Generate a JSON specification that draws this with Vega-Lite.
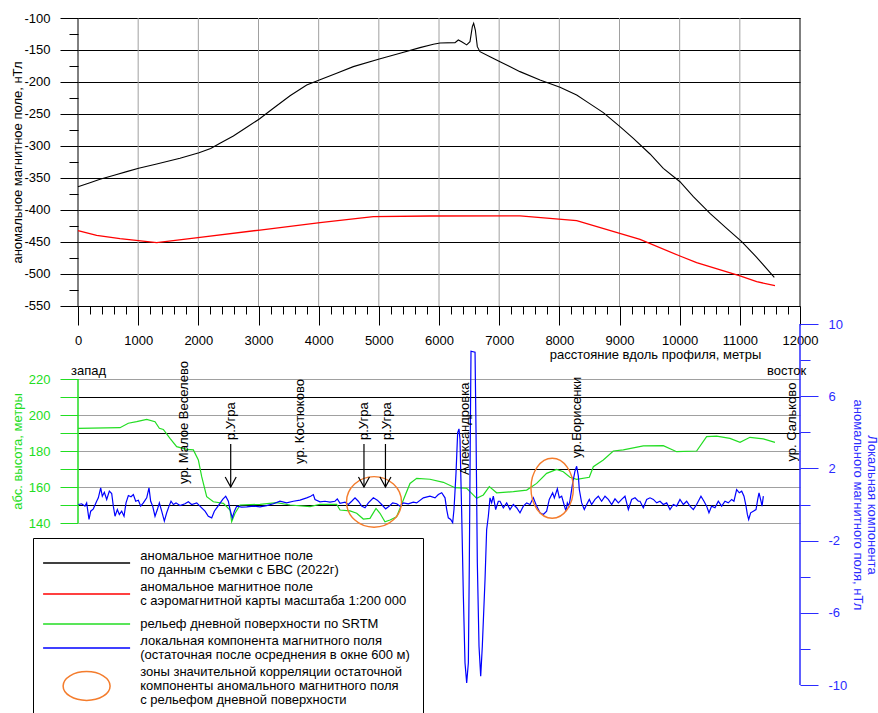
{
"$schema": "https://vega.github.io/schema/vega-lite/v6.json",
"width": 722, "height": 667,
"autosize": {"type": "none"},
"padding": {"left": 78, "top": 18, "right": 78, "bottom": 28},
"background": "white",
"config": {"font": "Liberation Sans", "view": {"stroke": null},
  "axis": {"labelFontSize": 13, "titleFontSize": 13, "titleFontWeight": "normal", "labelColor": "black", "titleColor": "black", "labelFont": "Liberation Sans", "titleFont": "Liberation Sans"},
  "legend": {"labelFont": "Liberation Sans"}},
"datasets": {
 "vgrid": [{"d":0},{"d":1000},{"d":2000},{"d":3000},{"d":4000},{"d":5000},{"d":6000},{"d":7000},{"d":8000},{"d":9000},{"d":10000},{"d":11000},{"d":12000}],
 "black": [{"d":0,"v":-363.6},{"d":199,"v":-357.3},{"d":366,"v":-352},{"d":615,"v":-345.3},{"d":809,"v":-340},{"d":1008,"v":-334.9},{"d":1308,"v":-328},{"d":1695,"v":-319},{"d":2011,"v":-310.4},{"d":2205,"v":-304},{"d":2360,"v":-295.8},{"d":2582,"v":-284.4},{"d":2804,"v":-270.8},{"d":3014,"v":-257.8},{"d":3247,"v":-241.1},{"d":3524,"v":-221.4},{"d":3801,"v":-204.7},{"d":4011,"v":-196.9},{"d":4299,"v":-186.4},{"d":4576,"v":-176},{"d":5008,"v":-164},{"d":5352,"v":-155.2},{"d":5684,"v":-146.3},{"d":5906,"v":-141.1},{"d":6017,"v":-139},{"d":6266,"v":-138.5},{"d":6321,"v":-134.4},{"d":6377,"v":-137},{"d":6460,"v":-142},{"d":6515,"v":-137},{"d":6554,"v":-113.5},{"d":6576,"v":-108.3},{"d":6604,"v":-118.8},{"d":6637,"v":-144.8},{"d":6681,"v":-152.6},{"d":6848,"v":-160.4},{"d":7014,"v":-168.2},{"d":7346,"v":-183.8},{"d":7679,"v":-196.9},{"d":8011,"v":-208.3},{"d":8288,"v":-220.3},{"d":8454,"v":-230.7},{"d":8731,"v":-247.9},{"d":9008,"v":-269.8},{"d":9230,"v":-288},{"d":9507,"v":-312.5},{"d":9728,"v":-334.9},{"d":10005,"v":-355.8},{"d":10227,"v":-379.2},{"d":10504,"v":-405.2},{"d":10781,"v":-428.6},{"d":11031,"v":-449.5},{"d":11280,"v":-473.9},{"d":11573,"v":-505.2}],
 "red": [{"d":0,"v":-432.3},{"d":310,"v":-439.6},{"d":698,"v":-444.8},{"d":1308,"v":-451},{"d":2028,"v":-442.7},{"d":3025,"v":-431.3},{"d":4022,"v":-419.8},{"d":4908,"v":-410.4},{"d":5850,"v":-409.4},{"d":7346,"v":-409.1},{"d":8288,"v":-416.7},{"d":9341,"v":-445.8},{"d":10005,"v":-471.9},{"d":10282,"v":-482.3},{"d":11003,"v":-503.1},{"d":11280,"v":-512},{"d":11584,"v":-518.2}],
 "green": [{"d":0,"v":192.6},{"d":698,"v":192.96},{"d":836,"v":195.4},{"d":975,"v":196.3},{"d":1142,"v":197.6},{"d":1280,"v":196.3},{"d":1352,"v":192.6},{"d":1418,"v":192},{"d":1529,"v":187},{"d":1640,"v":182.4},{"d":1806,"v":180.9},{"d":1917,"v":180.6},{"d":2000,"v":175},{"d":2056,"v":165.7},{"d":2139,"v":154.6},{"d":2250,"v":151.8},{"d":2416,"v":150.9},{"d":2527,"v":147.2},{"d":2554,"v":140.7},{"d":2610,"v":145.4},{"d":2693,"v":150},{"d":3025,"v":150.4},{"d":3302,"v":151.3},{"d":3524,"v":150},{"d":3856,"v":149.1},{"d":4022,"v":150.4},{"d":4299,"v":150.4},{"d":4355,"v":147.2},{"d":4521,"v":146.7},{"d":4632,"v":145.4},{"d":4742,"v":142.2},{"d":4853,"v":142.6},{"d":4953,"v":148.1},{"d":5019,"v":145.4},{"d":5102,"v":140.7},{"d":5186,"v":141.7},{"d":5296,"v":143.5},{"d":5407,"v":152.8},{"d":5518,"v":162},{"d":5629,"v":164.8},{"d":5850,"v":164.3},{"d":6072,"v":162.6},{"d":6266,"v":159.6},{"d":6460,"v":159.3},{"d":6626,"v":153.7},{"d":6737,"v":155.6},{"d":6836,"v":160.2},{"d":6958,"v":156.8},{"d":7235,"v":157.4},{"d":7457,"v":158.3},{"d":7623,"v":162},{"d":7789,"v":167.6},{"d":7955,"v":169.8},{"d":8066,"v":168.5},{"d":8177,"v":165.4},{"d":8288,"v":164.3},{"d":8498,"v":165.4},{"d":8565,"v":171.3},{"d":8731,"v":175},{"d":8897,"v":180},{"d":9063,"v":180.6},{"d":9396,"v":182.8},{"d":9728,"v":182.96},{"d":9950,"v":179.6},{"d":10282,"v":180},{"d":10448,"v":187.96},{"d":10614,"v":188.3},{"d":10836,"v":187},{"d":11003,"v":184.8},{"d":11169,"v":187.6},{"d":11390,"v":186.7},{"d":11584,"v":184.8}],
 "blue": [{"d":5,"v":0},{"d":61,"v":0.04},{"d":116,"v":-0.09},{"d":144,"v":0.09},{"d":183,"v":-0.83},{"d":211,"v":-0.37},{"d":255,"v":-0.24},{"d":310,"v":0.18},{"d":338,"v":0.37},{"d":377,"v":0.92},{"d":404,"v":0.46},{"d":438,"v":0.68},{"d":477,"v":0.28},{"d":521,"v":0.74},{"d":560,"v":0.61},{"d":587,"v":-0.09},{"d":615,"v":-0.65},{"d":654,"v":-0.28},{"d":687,"v":-0.55},{"d":726,"v":-0.37},{"d":765,"v":-0.65},{"d":798,"v":0.09},{"d":837,"v":0.5},{"d":881,"v":0.43},{"d":920,"v":0.55},{"d":959,"v":0.18},{"d":1003,"v":0.24},{"d":1042,"v":-0.09},{"d":1086,"v":0.09},{"d":1142,"v":0.37},{"d":1180,"v":0.92},{"d":1208,"v":0.18},{"d":1241,"v":-0.09},{"d":1280,"v":-0.65},{"d":1319,"v":-0.28},{"d":1352,"v":0.09},{"d":1391,"v":-0.37},{"d":1435,"v":-0.92},{"d":1474,"v":-0.46},{"d":1513,"v":-0.09},{"d":1546,"v":0.18},{"d":1585,"v":0},{"d":1629,"v":0.09},{"d":1695,"v":-0.06},{"d":1778,"v":0.04},{"d":1834,"v":0.15},{"d":1889,"v":0},{"d":1973,"v":0.09},{"d":2039,"v":-0.13},{"d":2111,"v":-0.37},{"d":2166,"v":-0.65},{"d":2222,"v":-0.74},{"d":2266,"v":-0.37},{"d":2333,"v":-0.06},{"d":2405,"v":0.28},{"d":2455,"v":0.46},{"d":2499,"v":0.18},{"d":2527,"v":-0.28},{"d":2565,"v":-0.74},{"d":2599,"v":-0.37},{"d":2638,"v":-0.09},{"d":2721,"v":-0.15},{"d":2804,"v":-0.13},{"d":2915,"v":-0.09},{"d":3025,"v":-0.13},{"d":3136,"v":-0.06},{"d":3247,"v":0.04},{"d":3357,"v":0.18},{"d":3468,"v":0.09},{"d":3579,"v":0.18},{"d":3690,"v":0.24},{"d":3801,"v":0.37},{"d":3867,"v":0.46},{"d":3911,"v":0.55},{"d":3939,"v":0.28},{"d":4022,"v":0.15},{"d":4105,"v":0.18},{"d":4188,"v":0.13},{"d":4271,"v":0.18},{"d":4310,"v":0.31},{"d":4355,"v":0.06},{"d":4438,"v":0.13},{"d":4493,"v":0},{"d":4549,"v":0.18},{"d":4604,"v":0.37},{"d":4659,"v":0.18},{"d":4715,"v":-0.09},{"d":4770,"v":-0.18},{"d":4826,"v":0.09},{"d":4909,"v":0.37},{"d":4975,"v":0.24},{"d":5047,"v":0},{"d":5114,"v":-0.24},{"d":5174,"v":-0.09},{"d":5230,"v":0.09},{"d":5297,"v":0.04},{"d":5352,"v":-0.09},{"d":5407,"v":0.09},{"d":5490,"v":0.04},{"d":5573,"v":0.13},{"d":5629,"v":0.09},{"d":5740,"v":0.37},{"d":5850,"v":0.46},{"d":5934,"v":0.37},{"d":5989,"v":0.55},{"d":6045,"v":0.65},{"d":6100,"v":0.37},{"d":6128,"v":-0.28},{"d":6155,"v":-0.74},{"d":6194,"v":-0.83},{"d":6227,"v":-1.01},{"d":6249,"v":-0.28},{"d":6283,"v":1.76},{"d":6310,"v":3.97},{"d":6332,"v":4.19},{"d":6349,"v":3.6},{"d":6377,"v":-0.46},{"d":6405,"v":-5.08},{"d":6432,"v":-8.77},{"d":6460,"v":-9.88},{"d":6488,"v":-8.77},{"d":6504,"v":-3.23},{"d":6521,"v":4.16},{"d":6532,"v":8.49},{"d":6599,"v":8.44},{"d":6615,"v":4.16},{"d":6637,"v":-3.23},{"d":6665,"v":-7.85},{"d":6693,"v":-9.51},{"d":6720,"v":-7.85},{"d":6765,"v":-4.16},{"d":6792,"v":-1.39},{"d":6820,"v":-0.65},{"d":6848,"v":0.37},{"d":6875,"v":0.09},{"d":6903,"v":0.46},{"d":6942,"v":-0.28},{"d":6986,"v":0.18},{"d":7014,"v":0.18},{"d":7069,"v":-0.18},{"d":7125,"v":0.09},{"d":7180,"v":-0.28},{"d":7235,"v":0},{"d":7291,"v":-0.18},{"d":7346,"v":-0.46},{"d":7402,"v":-0.09},{"d":7457,"v":0.09},{"d":7513,"v":0},{"d":7568,"v":0.37},{"d":7623,"v":-0.09},{"d":7679,"v":-0.46},{"d":7734,"v":-0.55},{"d":7789,"v":-0.37},{"d":7833,"v":0.28},{"d":7889,"v":0.65},{"d":7917,"v":0.37},{"d":7967,"v":0.87},{"d":8000,"v":0.37},{"d":8039,"v":0.46},{"d":8078,"v":0},{"d":8111,"v":-0.37},{"d":8133,"v":0.09},{"d":8161,"v":-0.09},{"d":8188,"v":0.46},{"d":8222,"v":1.2},{"d":8260,"v":1.85},{"d":8288,"v":2.12},{"d":8316,"v":1.57},{"d":8332,"v":0.83},{"d":8371,"v":0.09},{"d":8415,"v":-0.28},{"d":8454,"v":0},{"d":8498,"v":0.28},{"d":8537,"v":0},{"d":8593,"v":0.28},{"d":8648,"v":0.46},{"d":8703,"v":0.18},{"d":8759,"v":0.46},{"d":8814,"v":0.28},{"d":8870,"v":0},{"d":8925,"v":0.31},{"d":8981,"v":0.09},{"d":9036,"v":0.28},{"d":9091,"v":0.46},{"d":9147,"v":-0.28},{"d":9202,"v":0.28},{"d":9258,"v":0.37},{"d":9313,"v":0.18},{"d":9341,"v":0.18},{"d":9396,"v":-0.18},{"d":9452,"v":0.28},{"d":9507,"v":0.37},{"d":9563,"v":0.28},{"d":9618,"v":0.09},{"d":9673,"v":0.18},{"d":9728,"v":0},{"d":9784,"v":0.09},{"d":9839,"v":-0.28},{"d":9895,"v":0},{"d":9950,"v":-0.09},{"d":10005,"v":0.28},{"d":10061,"v":0},{"d":10116,"v":0.18},{"d":10171,"v":-0.09},{"d":10227,"v":-0.28},{"d":10282,"v":0},{"d":10354,"v":0.46},{"d":10404,"v":0.18},{"d":10448,"v":-0.09},{"d":10487,"v":-0.46},{"d":10531,"v":-0.09},{"d":10587,"v":-0.18},{"d":10642,"v":0.18},{"d":10698,"v":-0.09},{"d":10753,"v":0.18},{"d":10808,"v":0.09},{"d":10864,"v":0.28},{"d":10902,"v":0.18},{"d":10947,"v":0.83},{"d":10991,"v":0.65},{"d":11031,"v":0.74},{"d":11069,"v":0.46},{"d":11103,"v":-0.09},{"d":11125,"v":-0.55},{"d":11147,"v":-0.83},{"d":11180,"v":-0.46},{"d":11224,"v":-0.37},{"d":11269,"v":-0.28},{"d":11297,"v":0.28},{"d":11319,"v":0.65},{"d":11352,"v":0.18},{"d":11369,"v":-0.09},{"d":11391,"v":0.46}],
 "places": [{"d":1762,"v":161.7,"t":"ур. Малое Веселево"},{"d":2538,"v":186.1,"t":"р.Угра"},{"d":3690,"v":172.8,"t":"ур. Костюково"},{"d":4753,"v":186.1,"t":"р.Угра"},{"d":5131,"v":186.1,"t":"р.Угра"},{"d":6432,"v":166.7,"t":"Александровка"},{"d":8288,"v":176.1,"t":"ур.Борисенки"},{"d":11862,"v":174.1,"t":"ур. Сальково"}],
 "arrows": [{"d":2538,"v":183.9,"v2":160},{"d":4753,"v":183.9,"v2":160},{"d":5110,"v":183.9,"v2":160}],
 "sides": [{"d":-116,"v":224.4,"t":"запад"},{"d":11451,"v":224.4,"t":"восток"}]
},
"encoding": {"x": {"field": "d", "type": "quantitative", "scale": {"domain": [0, 12000], "nice": false, "zero": false}, "axis": null}},
"layer": [
 {"data": {"name": "vgrid"}, "mark": {"type": "rule", "strokeWidth": 1},
  "encoding": {
   "x": {"field": "d", "type": "quantitative", "scale": {"domain": [0, 12000], "nice": false, "zero": false},
    "axis": {"orient": "bottom", "offset": -379, "values": [200,400,600,800,1200,1400,1600,1800,2200,2400,2600,2800,3200,3400,3600,3800,4200,4400,4600,4800,5200,5400,5600,5800,6200,6400,6600,6800,7200,7400,7600,7800,8200,8400,8600,8800,9200,9400,9600,9800,10200,10400,10600,10800,11200,11400,11600,11800],
     "labels": false, "tickSize": 8, "tickColor": "black", "domain": false, "grid": false, "title": null}},
   "y": {"datum": -100, "type": "quantitative", "scale": {"domain": [-1142.19, -100], "nice": false, "zero": false}, "axis": null}, "y2": {"datum": -550},
   "color": {"condition": {"test": "datum.d === 0 || datum.d === 12000", "value": "#000000"}, "value": "#a0a0a0"}}},
 {"data": {"name": "black"}, "mark": {"type": "line", "strokeWidth": 1.1},
  "encoding": {
   "x": {"field": "d", "type": "quantitative", "scale": {"domain": [0, 12000], "nice": false, "zero": false},
    "axis": {"orient": "bottom", "offset": -379, "values": [0,1000,2000,3000,4000,5000,6000,7000,8000,9000,10000,11000,12000],
     "labelExpr": "toString(datum.value)", "tickSize": 19, "tickColor": "black", "domainColor": "black", "grid": false, "labelPadding": 9, "labelFlush": false, "labelOverlap": false, "labelBound": false,
     "title": "расстояние вдоль профиля, метры", "titleX": 577, "titleY": 48, "titleAlign": "center", "titleBaseline": "middle"}},
   "y": {"field": "v", "type": "quantitative", "scale": {"domain": [-1142.19, -100], "nice": false, "zero": false},
    "axis": {"orient": "left", "values": [-550,-500,-450,-400,-350,-300,-250,-200,-150,-100],
     "labelExpr": "toString(datum.value)", "tickSize": 18, "tickColor": "black", "domain": false, "grid": true, "gridColor": "black",
     "labelPadding": 10, "labelOverlap": false, "labelBound": false, "labelFlush": false,
     "title": "аномальное магнитное поле, нТл", "titleAngle": 270, "titleX": -61, "titleY": 144, "titleAlign": "center", "titleBaseline": "middle"}},
   "color": {"datum": "аномальное магнитное поле|по данным съемки с БВС (2022г)", "type": "nominal",
    "scale": {"domain": ["аномальное магнитное поле|по данным съемки с БВС (2022г)", "аномальное магнитное поле|с аэромагнитной карты масштаба 1:200 000", "рельеф дневной поверхности по SRTM", "локальная компонента магнитного поля|(остаточная после осреднения в окне 600 м)", "зоны значительной корреляции остаточной|компоненты аномального магнитного поля|с рельефом дневной поверхности"], "range": ["#000000", "#ff0000", "#22dd22", "#0000ff", "#f47c2c"]},
    "legend": {"orient": "none", "legendX": -45, "legendY": 520, "title": null, "padding": 13, "strokeColor": "black", "fillColor": "white", "labelFontSize": 13, "labelLimit": 600,
     "symbolSize": 473, "symbolType": "M-4,0L4,0", "symbolStrokeWidth": 1.5, "symbolOffset": 28.6, "labelOffset": 41.65, "rowPadding": 4,
     "labelExpr": "split(datum.label, '|')",
     "encode": {"symbols": {"update": {"shape": {"signal": "indexof(datum.value, 'зоны') === 0 ? 'M-2.16,0A2.16,1.33 0 1,1 2.16,0A2.16,1.33 0 1,1 -2.16,0' : 'M-4,0L4,0'"}}},
       "labels": {"update": {"dy": {"signal": "-7 * (length(split(datum.value, '|')) - 1)"}, "lineHeight": {"value": 14}}}}}}}},
 {"data": {"name": "red"}, "mark": {"type": "line", "strokeWidth": 1.3},
  "encoding": {"y": {"field": "v", "type": "quantitative", "scale": {"domain": [-1142.19, -100], "nice": false, "zero": false},
    "axis": {"orient": "left", "values": [-525,-475,-425,-375,-325,-275,-225,-175,-125], "labels": false, "tickSize": 9, "tickColor": "black", "domain": false, "grid": false, "title": null}},
   "color": {"datum": "аномальное магнитное поле|с аэромагнитной карты масштаба 1:200 000", "type": "nominal"}}},
 {"data": {"values": [{"d": 0}]}, "mark": {"type": "rule", "strokeWidth": 1.5, "color": "#22dd22"},
  "encoding": {"y": {"datum": 220, "type": "quantitative", "scale": {"domain": [50, 420.56], "nice": false, "zero": false}, "axis": null}, "y2": {"datum": 140}}},
 {"data": {"name": "green"}, "mark": {"type": "line", "strokeWidth": 1.2},
  "encoding": {"y": {"field": "v", "type": "quantitative", "scale": {"domain": [50, 420.56], "nice": false, "zero": false},
    "axis": {"orient": "left", "values": [140,150,160,170,180,190,200,210,220],
     "labelExpr": "datum.value % 20 === 0 ? toString(datum.value) : ''",
     "tickSize": 18, "tickColor": "#22dd22", "labelColor": "#22dd22", "domain": false, "grid": true,
     "gridColor": {"condition": {"test": "datum.value % 20 === 0", "value": "#a0a0a0"}, "value": "#000000"},
     "labelPadding": 10, "labelOverlap": false, "labelBound": false, "labelFlush": false,
     "title": "абс. высота, метры", "titleColor": "#22dd22", "titleAngle": 270, "titleX": -61, "titleY": 433, "titleAlign": "center", "titleBaseline": "middle"}},
   "color": {"datum": "рельеф дневной поверхности по SRTM", "type": "nominal"}}},
 {"data": {"values": [{"d": 12000}]}, "mark": {"type": "rule", "strokeWidth": 1.5, "color": "#2b2bff"},
  "encoding": {"y": {"datum": 10, "type": "quantitative", "scale": {"domain": [-10, 26.953], "nice": false, "zero": false},
    "axis": {"orient": "right", "values": [-8,-4,0,4,8], "labels": false, "tickSize": 10, "tickColor": "#2b2bff", "domain": false, "grid": false, "title": null}}, "y2": {"datum": -10}}},
 {"data": {"name": "blue"}, "mark": {"type": "line", "strokeWidth": 1.2},
  "encoding": {"y": {"field": "v", "type": "quantitative", "scale": {"domain": [-10, 26.953], "nice": false, "zero": false},
    "axis": {"orient": "right", "values": [-10,-6,-2,2,6,10],
     "labelExpr": "toString(datum.value)",
     "tickSize": 18, "tickColor": "#2b2bff", "labelColor": "#2b2bff", "domain": false, "grid": false,
     "labelPadding": 10, "labelOverlap": false, "labelBound": false, "labelFlush": false,
     "title": ["Локальная компонента", "аномального магнитного поля, нТл"], "titleColor": "#2b2bff", "titleAngle": 90, "titleX": 77, "titleY": 486.5, "titleAlign": "center", "titleBaseline": "top", "titleLineHeight": 14}},
   "color": {"datum": "локальная компонента магнитного поля|(остаточная после осреднения в окне 600 м)", "type": "nominal"}}},
 {"data": {"values": [{"d": 4920, "v": 151.7}]}, "mark": {"type": "point", "filled": false, "opacity": 1, "strokeWidth": 1.4, "size": 3025, "shape": "M-1,0A1,0.92 0 1,1 1,0A1,0.92 0 1,1 -1,0"},
  "encoding": {"y": {"field": "v", "type": "quantitative", "scale": {"domain": [50, 420.56], "nice": false, "zero": false}, "axis": null},
   "color": {"datum": "зоны значительной корреляции остаточной|компоненты аномального магнитного поля|с рельефом дневной поверхности", "type": "nominal"}}},
 {"data": {"values": [{"d": 7881, "v": 159.3}]}, "mark": {"type": "point", "filled": false, "opacity": 1, "strokeWidth": 1.4, "size": 3600, "shape": "M-0.707,0A0.707,1 0 1,1 0.707,0A0.707,1 0 1,1 -0.707,0"},
  "encoding": {"y": {"field": "v", "type": "quantitative", "scale": {"domain": [50, 420.56], "nice": false, "zero": false}, "axis": null},
   "color": {"datum": "зоны значительной корреляции остаточной|компоненты аномального магнитного поля|с рельефом дневной поверхности", "type": "nominal"}}},
 {"data": {"name": "arrows"}, "mark": {"type": "rule", "strokeWidth": 1.2, "color": "black"},
  "encoding": {"y": {"field": "v", "type": "quantitative", "scale": {"domain": [50, 420.56], "nice": false, "zero": false}, "axis": null}, "y2": {"field": "v2"}}},
 {"data": {"name": "arrows"}, "mark": {"type": "point", "filled": false, "opacity": 1, "strokeWidth": 1.2, "color": "black", "size": 400, "shape": "M-0.55,-1L0,0L0.55,-1"},
  "encoding": {"y": {"field": "v2", "type": "quantitative", "scale": {"domain": [50, 420.56], "nice": false, "zero": false}, "axis": null}}},
 {"data": {"name": "places"}, "mark": {"type": "text", "angle": 270, "align": "left", "baseline": "middle", "fontSize": 13, "color": "black"},
  "encoding": {"y": {"field": "v", "type": "quantitative", "scale": {"domain": [50, 420.56], "nice": false, "zero": false}, "axis": null}, "text": {"field": "t"}}},
 {"data": {"name": "sides"}, "mark": {"type": "text", "align": "left", "baseline": "middle", "fontSize": 13, "color": "black"},
  "encoding": {"y": {"field": "v", "type": "quantitative", "scale": {"domain": [50, 420.56], "nice": false, "zero": false}, "axis": null}, "text": {"field": "t"}}}
],
"resolve": {"scale": {"x": "independent", "y": "independent"}, "axis": {"x": "independent", "y": "independent"}}
}
